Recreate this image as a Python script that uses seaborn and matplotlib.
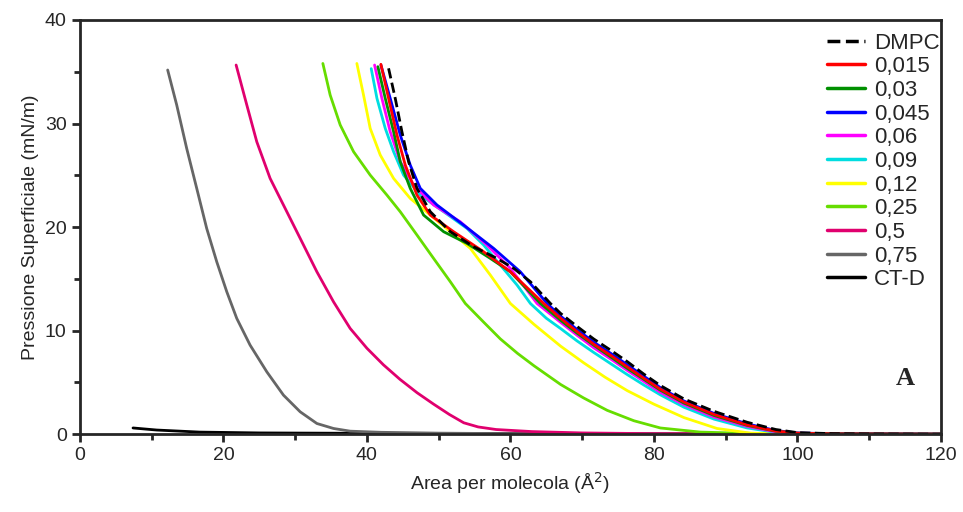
import numpy as np
import pandas as pd
import matplotlib
matplotlib.use("Agg")
import matplotlib.pyplot as plt
import seaborn as sns
from matplotlib.ticker import MultipleLocator

# isotherm data (area in A^2, pressure in mN/m)
dmpc_x = [43.02, 43.95, 44.88, 45.81, 46.98, 48.84, 51.63, 54.88, 58.14, 60.47, 62.79, 65.58,
          67.0, 69.3, 71.6, 74.0, 76.3, 78.6, 80.9, 84.2, 88.4, 93.0, 97.0, 100, 105, 110, 120]
dmpc_y = [35.33, 32.43, 29.21, 26.31, 23.74, 21.48, 19.55, 18.10, 16.97, 16.01, 14.72, 12.62,
          11.66, 10.4, 9.2, 8.1, 7.0, 5.8, 4.7, 3.4, 2.2, 1.15, 0.45, 0.15, 0.05, 0.02, 0.0]

c015_x = [41.95, 43.02, 44.19, 45.35, 46.98, 48.84, 52.09, 56.28, 60.0, 64.65,
          67.0, 69.3, 71.6, 74.0, 76.3, 78.6, 80.9, 84.2, 88.4, 93.0, 97.0, 100, 105, 120]
c015_y = [35.72, 32.43, 28.89, 25.99, 23.09, 21.16, 19.55, 17.61, 15.68, 12.62,
          11.2, 9.9, 8.7, 7.6, 6.5, 5.4, 4.35, 3.1, 1.9, 0.9, 0.3, 0.1, 0.03, 0.0]

c03_x = [41.53, 42.56, 43.72, 44.65, 46.04, 47.90, 50.70, 53.95, 57.21, 60.0, 64.19,
         67.0, 69.3, 71.6, 74.0, 76.3, 78.6, 80.9, 84.2, 88.4, 93.0, 97.0, 100, 105, 120]
c03_y = [35.49, 32.43, 29.21, 26.31, 23.74, 21.16, 19.55, 18.42, 16.97, 15.68, 12.62,
         11.0, 9.75, 8.6, 7.45, 6.35, 5.3, 4.25, 3.0, 1.8, 0.85, 0.28, 0.09, 0.03, 0.0]

c045_x = [41.95, 43.25, 44.65, 46.04, 47.44, 49.77, 53.49, 57.67, 61.39, 65.12,
          67.0, 69.3, 71.6, 74.0, 76.3, 78.6, 80.9, 84.2, 88.4, 93.0, 97.0, 100, 105, 120]
c045_y = [35.65, 32.43, 28.89, 25.99, 23.74, 22.13, 20.19, 17.94, 15.68, 12.62,
          11.4, 10.1, 8.9, 7.8, 6.7, 5.6, 4.5, 3.2, 2.0, 1.0, 0.35, 0.12, 0.04, 0.0]

c06_x = [41.07, 42.09, 43.25, 44.65, 46.51, 49.30, 53.02, 56.74, 60.0, 63.72,
         67.0, 69.3, 71.6, 74.0, 76.3, 78.6, 80.9, 84.2, 88.4, 93.0, 97.0, 100, 105, 120]
c06_y = [35.65, 32.43, 29.21, 26.31, 24.06, 22.13, 20.51, 18.26, 16.01, 12.62,
         10.8, 9.55, 8.35, 7.25, 6.15, 5.1, 4.05, 2.85, 1.65, 0.75, 0.22, 0.07, 0.02, 0.0]

c09_x = [40.6, 41.40, 42.56, 43.72, 45.11, 47.44, 50.70, 53.95, 56.28, 58.60, 60.93, 62.79,
         65.0, 67.0, 69.3, 71.6, 74.0, 76.3, 78.6, 80.9, 84.2, 88.4, 93.0, 97.0, 100, 120]
c09_y = [35.3, 32.43, 29.53, 27.28, 25.02, 23.09, 21.48, 19.87, 18.26, 16.33, 14.40, 12.62,
         11.2, 10.2, 9.0, 7.9, 6.8, 5.75, 4.75, 3.8, 2.6, 1.45, 0.6, 0.18, 0.05, 0.0]

c12_x = [38.6, 39.53, 40.46, 41.86, 43.72, 46.04, 48.84, 51.63, 54.42, 57.21, 60.0,
         63.3, 67.0, 70.2, 73.2, 76.3, 80.0, 84.2, 88.8, 93.5, 100, 120]
c12_y = [35.8, 32.75, 29.53, 26.96, 24.70, 22.77, 21.16, 19.55, 17.94, 15.36, 12.62,
         10.6, 8.5, 6.9, 5.5, 4.2, 2.9, 1.6, 0.55, 0.1, 0.02, 0.0]

c25_x = [33.86, 34.88, 36.28, 38.14, 40.46, 42.79, 44.65, 46.98, 49.30, 51.63, 53.72,
         56.3, 58.6, 61.0, 63.3, 67.0, 70.2, 73.5, 77.2, 80.9, 86.5, 95, 120]
c25_y = [35.8, 32.75, 29.86, 27.28, 25.02, 23.09, 21.48, 19.23, 16.97, 14.72, 12.62,
         10.8, 9.2, 7.8, 6.6, 4.8, 3.5, 2.3, 1.3, 0.6, 0.2, 0.05, 0.0]

c5_x = [21.77, 23.26, 24.65, 26.51, 28.37, 30.70, 33.03, 35.35, 37.67, 40.0, 42.3,
        44.6, 47.0, 49.3, 51.5, 53.5, 55.5, 58.0, 63.0, 70.0, 80.0, 120]
c5_y = [35.65, 31.79, 28.24, 24.70, 22.13, 18.91, 15.68, 12.78, 10.21, 8.3, 6.7,
        5.3, 4.0, 2.9, 1.9, 1.1, 0.7, 0.45, 0.25, 0.12, 0.05, 0.0]

c75_x = [12.23, 13.49, 14.88, 16.28, 17.67, 19.07, 20.47, 21.86, 23.72, 26.05, 28.37,
         30.70, 33.03, 35.35, 37.67, 42.0, 50.0, 60.0, 120]
c75_y = [35.17, 31.79, 27.60, 23.74, 19.87, 16.65, 13.75, 11.18, 8.60, 6.02, 3.77,
         2.16, 1.03, 0.55, 0.29, 0.18, 0.1, 0.05, 0.0]

ctd_x = [7.4, 10.7, 16.7, 25, 40, 60, 120]
ctd_y = [0.6, 0.4, 0.2, 0.12, 0.08, 0.05, 0.0]

labels = ["DMPC", "0,015", "0,03", "0,045", "0,06", "0,09", "0,12", "0,25", "0,5", "0,75", "CT-D"]
series = [(dmpc_x, dmpc_y), (c015_x, c015_y), (c03_x, c03_y), (c045_x, c045_y),
          (c06_x, c06_y), (c09_x, c09_y), (c12_x, c12_y), (c25_x, c25_y),
          (c5_x, c5_y), (c75_x, c75_y), (ctd_x, ctd_y)]
colors = ["black", "#ff0000", "#009000", "#0000ff", "#ff00ff", "#00dde0",
          "#ffff00", "#66dd00", "#e0006e", "#666666", "black"]

sns.set_style("ticks")
plt.rcParams["font.family"] = ["Liberation Sans", "DejaVu Sans"]

fig = plt.figure(figsize=(9.63, 5.12), dpi=100)
ax = fig.add_axes([0.083, 0.152, 0.894, 0.809])

# draw in reverse so DMPC ends on top
order = list(range(len(labels)))[::-1]
for i in order:
    xs, ys = series[i]
    df = pd.DataFrame({"area": xs, "pressure": ys})
    ls = "--" if labels[i] == "DMPC" else "-"
    sns.lineplot(data=df, x="area", y="pressure", ax=ax, color=colors[i], label=labels[i],
                 sort=False, estimator=None, linewidth=2.0, linestyle=ls)

ax.set_xlim(0, 120)
ax.set_ylim(0, 40)
ax.xaxis.set_major_locator(MultipleLocator(20))
ax.xaxis.set_minor_locator(MultipleLocator(10))
ax.yaxis.set_major_locator(MultipleLocator(10))
ax.yaxis.set_minor_locator(MultipleLocator(5))
ax.tick_params(which="major", direction="out", length=6, width=2, labelsize=14,
               top=False, right=False)
ax.tick_params(which="minor", direction="out", length=4, width=2,
               top=False, right=False)
for sp in ax.spines.values():
    sp.set_linewidth(2)
    sp.set_visible(True)

ax.set_xlabel("Area per molecola (Å$^2$)", fontsize=14)
ax.set_ylabel("Pressione Superficiale (mN/m)", fontsize=14)

ax.text(115, 5.4, "A", fontsize=19, fontweight="bold", family="Liberation Serif",
        ha="center", va="center")

handles, labs = ax.get_legend_handles_labels()
hmap = dict(zip(labs, handles))
leg = ax.legend([hmap[l] for l in labels], labels, loc="upper right",
                bbox_to_anchor=(1.009, 0.991), frameon=False, fontsize=16,
                handlelength=1.7, labelspacing=0.12, handletextpad=0.4,
                borderaxespad=0.0, borderpad=0.4)
for h in leg.get_lines():
    h.set_linewidth(2.5)

fig.savefig("out.png", dpi=100)
